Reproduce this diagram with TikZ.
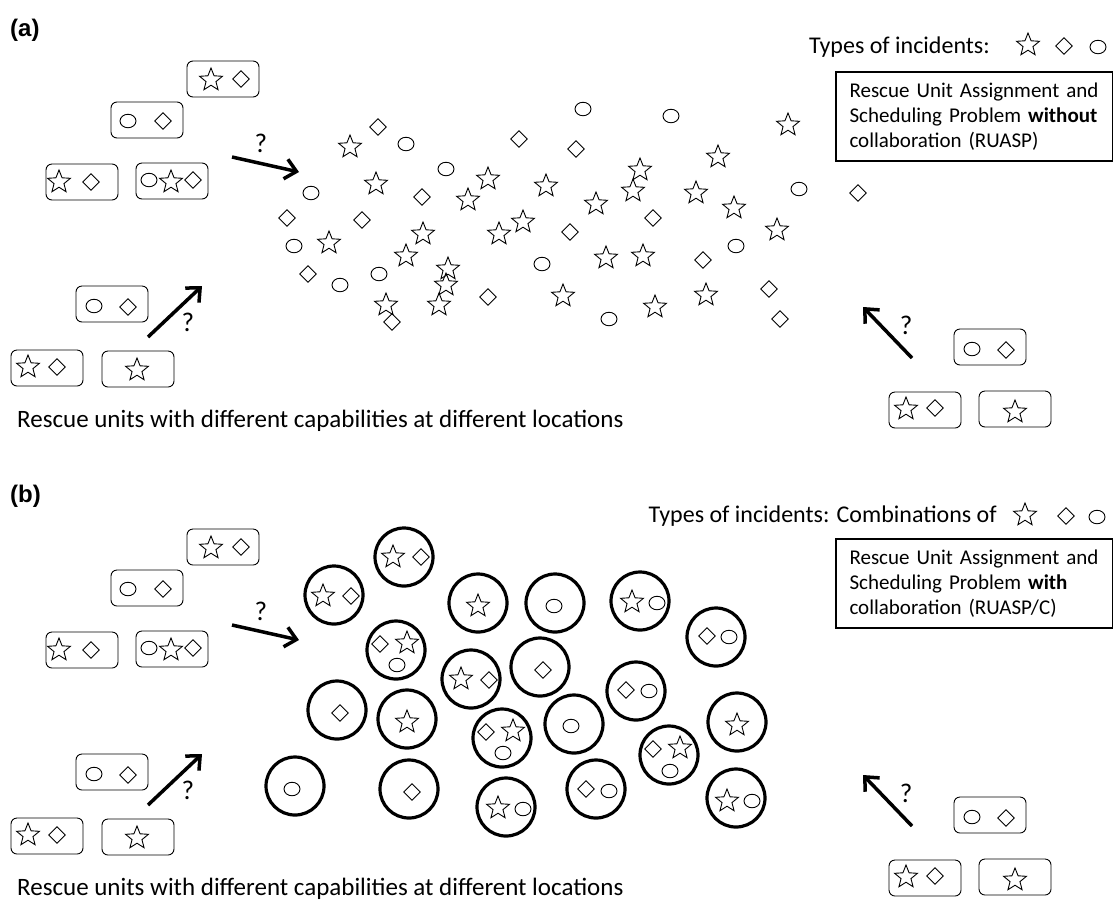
\documentclass[tikz,border=0pt]{standalone}
\usepackage{fontspec}
\setmainfont{Carlito}
\newfontfamily\lblfont{Liberation Sans}
\usetikzlibrary{shapes.geometric,arrows.meta}
\tikzset{
 sym/.style={draw, line width=0.9pt, inner sep=0pt},
 stari/.style={sym, star, star points=5, star point ratio=2.3, minimum size=24pt},
 diam/.style={sym, diamond, minimum width=17pt, minimum height=17pt},
 circi/.style={sym, ellipse, minimum width=16pt, minimum height=13.5pt},
 unitbox/.style={draw, line width=0.9pt, rounded corners=6pt, minimum width=72pt, minimum height=36pt, inner sep=0pt},
 bigc/.style={draw, circle, line width=3.2pt, minimum size=58pt, inner sep=0pt},
 qarrow/.style={line width=3.5pt, -{Straight Barb[length=11pt,width=20pt]}},
 txt/.style={font=\fontsize{24}{28}\selectfont, inner sep=0pt},
 qm/.style={font=\fontsize{27}{30}\selectfont, inner sep=0pt},
 lbl/.style={font=\lblfont\bfseries\fontsize{24}{28}\selectfont, inner sep=0pt, anchor=west},
 probbox/.style={draw, line width=2pt, align=left, text width=250pt, inner xsep=13pt, minimum width=277pt, minimum height=89pt, font=\fontsize{21}{25}\selectfont, anchor=north west}
}
\newcommand\periph{%
 \node[unitbox] (u1) at (223,79) {};
 \node[stari] (u1s) at (211,80) {};
 \node[diam] (u1d) at (241,79) {};
 \node[unitbox] (u2) at (147,120) {};
 \node[circi] (u2c) at (128,121) {};
 \node[diam] (u2d) at (163,121) {};
 \node[unitbox] (u3) at (82,182) {};
 \node[stari] (u3s) at (59,182) {};
 \node[diam] (u3d) at (91,182) {};
 \node[unitbox] (u4) at (172,181) {};
 \node[circi] (u4c) at (149,180) {};
 \node[stari] (u4s) at (171,182) {};
 \node[diam] (u4d) at (193,180) {};
 \node[unitbox] (u5) at (112,304) {};
 \node[circi] (u5c) at (94,306) {};
 \node[diam] (u5d) at (128,307) {};
 \node[unitbox] (u6) at (47,368) {};
 \node[stari] (u6s) at (28,367) {};
 \node[diam] (u6d) at (57,367) {};
 \node[unitbox] (u7) at (138,369) {};
 \node[stari] (u7s) at (137,370) {};
 \node[unitbox] (u8) at (990,347) {};
 \node[circi] (u8c) at (972,349) {};
 \node[diam] (u8d) at (1006,350) {};
 \node[unitbox] (u9) at (925,410) {};
 \node[stari] (u9s) at (906,409) {};
 \node[diam] (u9d) at (935,408) {};
 \node[unitbox] (u10) at (1015,409) {};
 \node[stari] (u10s) at (1015,412) {};
 \coordinate (a1s) at (232,157); \coordinate (a1e) at (299,172);
 \draw[qarrow] (a1s) -- (a1e);
 \node[qm] (q1) at (261,143) {?};
 \coordinate (a2s) at (148,337); \coordinate (a2e) at (202,286);
 \draw[qarrow] (a2s) -- (a2e);
 \node[qm] (q2) at (188,322) {?};
 \coordinate (a3s) at (912,358); \coordinate (a3e) at (863,307);
 \draw[qarrow] (a3s) -- (a3e);
 \node[qm] (q3) at (906,325) {?};
 \node[txt, font=\fontsize{25}{28}\selectfont, anchor=base west] (ru) at (17,427) {Rescue units with different capabilities at different locations};
}
\begin{document}
\begin{tikzpicture}[x=1pt,y=-1pt]
\useasboundingbox (0,0) rectangle (1113,906);
% ---------- panel (a)
\node[lbl] (la) at (10,30) {(a)};
\begin{scope}[name prefix=a-]
\periph
\end{scope}
\node[txt, anchor=base east] (ta) at (990,53) {Types of incidents:};
\node[stari] (tas) at (1028,45) {};
\node[diam] (tad) at (1064,46) {};
\node[circi] (tac) at (1098,47) {};
\node[probbox] (pa) at (835,71) {Rescue Unit Assignment and\\Scheduling Problem \textbf{without}\\collaboration (RUASP)};
\foreach \p [count=\i] in {(350,147),(376,184),(488,179),(546,186),(468,200),(423,234),(523,222),(499,234),(329,243),(406,256),(448,269),(446,285),(439,305),(386,305),(563,296),(788,125),(718,157),(640,170),(633,191),(696,193),(596,204),(734,208),(777,230),(606,258),(643,256),(655,307),(706,295)}
  \node[stari] (s\i) at \p {};
\foreach \p [count=\i] in {(378,127),(519,139),(422,197),(287,218),(362,220),(308,274),(488,297),(392,322),(576,149),(858,193),(653,218),(570,232),(703,260),(769,289),(780,319)}
  \node[diam] (d\i) at \p {};
\foreach \p [count=\i] in {(406,144),(446,169),(311,193),(294,246),(340,285),(379,274),(542,264),(583,109),(671,116),(799,189),(736,246),(609,319)}
  \node[circi] (c\i) at \p {};
% ---------- panel (b)
\node[lbl] (lb) at (10,496) {(b)};
\begin{scope}[shift={(0,468)}, name prefix=b-]
\periph
\end{scope}
\node[txt, anchor=base east] (tb) at (997,522) {Types of incidents: Combinations of};
\node[stari] (tbs) at (1025,515) {};
\node[diam] (tbd) at (1066,516) {};
\node[circi] (tbc) at (1097,517) {};
\node[probbox] (pb) at (835,538) {Rescue Unit Assignment and\\Scheduling Problem \textbf{with}\\collaboration (RUASP/C)};
% big circles
\foreach \p [count=\i] in {(404,557),(334,595),(478,603),(555,603),(640,601),(716,637),(396,650),(471,679),(540,667),(636,691),(337,710),(407,719),(502,738),(574,724),(737,722),(669,755),(295,786),(409,789),(506,807),(596,789),(736,798)}
  \node[bigc] (B\i) at \p {};
\foreach \p [count=\i] in {(393,557),(323,596),(478,606),(407,643),(461,679),(407,722),(513,731),(498,808),(632,602),(737,725),(680,748),(727,801)}
  \node[stari] (bs\i) at \p {};
\foreach \p [count=\i] in {(421,557),(351,596),(380,644),(489,680),(543,670),(340,713),(486,732),(412,792),(707,636),(626,690),(653,749),(586,789)}
  \node[diam] (bd\i) at \p {};
\foreach \p [count=\i] in {(554,606),(397,665),(503,753),(571,726),(292,789),(523,809),(657,603),(729,637),(649,691),(670,771),(609,791),(752,801)}
  \node[circi] (bc\i) at \p {};
\end{tikzpicture}
\end{document}
